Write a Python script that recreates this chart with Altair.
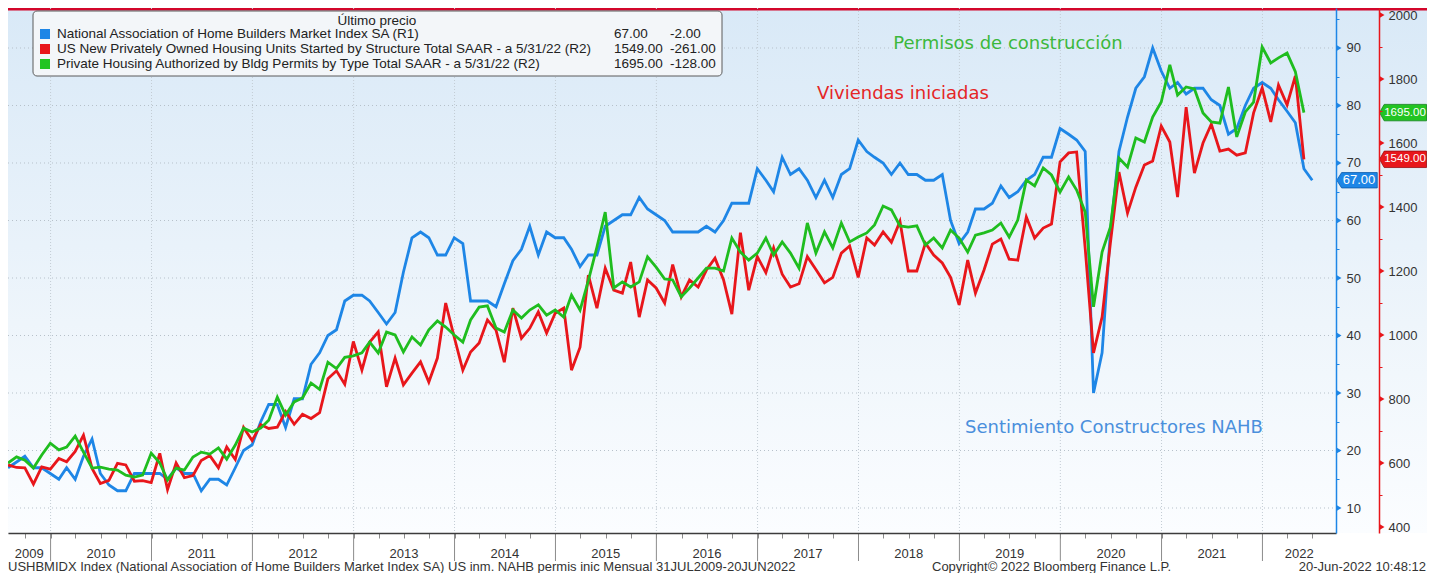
import calendar
import altair as alt
import pandas as pd

# ---------------- data ----------------
# NAHB Market Index (R1), monthly Jul-2009 .. Jun-2022
nahb = [
    17, 18, 19, 17, 17, 16,
    15, 17, 15, 19, 22, 16, 14, 13, 13, 16, 16, 16,
    16, 15, 17, 16, 16, 13, 15, 15, 14, 17, 20, 21,
    25, 28, 28, 24, 29, 29, 35, 37, 40, 41, 46, 47,
    47, 46, 44, 42, 44, 51, 57, 58, 57, 54, 54, 57,
    56, 46, 46, 46, 45, 49, 53, 55, 59, 54, 58, 57,
    57, 55, 52, 54, 54, 59, 60, 61, 61, 64, 62, 61,
    60, 58, 58, 58, 58, 59, 58, 60, 63, 63, 63, 69,
    67, 65, 71, 68, 69, 67, 64, 67, 64, 68, 69, 74,
    72, 71, 70, 68, 70, 68, 68, 67, 67, 68, 60, 56,
    58, 62, 62, 63, 66, 64, 65, 67, 68, 71, 71, 76,
    75, 74, 72, 30, 37, 58, 72, 78, 83, 85, 90, 86,
    83, 84, 82, 83, 83, 81, 80, 75, 76, 80, 83, 84,
    83, 81, 79, 77, 69, 67,
]
# Housing starts (R2), Jul-2009 .. May-2022
starts = [
    594, 586, 585, 534, 588, 581,
    614, 604, 636, 687, 583, 536, 546, 599, 594, 543, 545, 539,
    630, 517, 600, 554, 561, 608, 623, 585, 650, 611, 711, 670,
    720, 708, 712, 761, 721, 752, 739, 757, 863, 888, 846, 980,
    890, 978, 1010, 838, 928, 844, 881, 916, 853, 928, 1100, 993,
    890, 947, 975, 1047, 1015, 915, 1084, 990, 1021, 1072, 1006, 1068,
    1084, 890, 962, 1187, 1084, 1209, 1140, 1131, 1228, 1056, 1172, 1147,
    1100, 1220, 1119, 1172, 1150, 1203, 1240, 1172, 1065, 1320, 1140, 1245,
    1195, 1272, 1190, 1150, 1160, 1245, 1205, 1163, 1180, 1256, 1278, 1180,
    1303, 1281, 1322, 1290, 1355, 1200, 1200, 1287, 1250, 1225, 1180, 1094,
    1234, 1131, 1203, 1284, 1300, 1237, 1234, 1369, 1303, 1334, 1347, 1541,
    1569, 1572, 1270, 944, 1056, 1287, 1509, 1381, 1462, 1531, 1544, 1653,
    1603, 1431, 1712, 1506, 1600, 1659, 1575, 1581, 1562, 1569, 1694, 1772,
    1666, 1781, 1719, 1810, 1549,
]
# Building permits (R2), Jul-2009 .. May-2022
permits = [
    600, 619, 609, 584, 625, 662,
    641, 650, 684, 634, 584, 587, 581, 578, 562, 556, 562, 631,
    600, 547, 584, 578, 619, 634, 628, 647, 612, 656, 709, 697,
    709, 734, 806, 750, 791, 803, 850, 830, 915, 895, 930, 935,
    944, 978, 944, 1009, 1000, 947, 994, 969, 1016, 1044, 1025, 1000,
    978, 1047, 1087, 1091, 1022, 1009, 1078, 1053, 1078, 1094, 1062, 1078,
    1056, 1125, 1078, 1170, 1275, 1384, 1147, 1166, 1150, 1166, 1244, 1212,
    1175, 1172, 1119, 1147, 1178, 1209, 1209, 1200, 1303, 1259, 1234, 1256,
    1303, 1250, 1291, 1256, 1209, 1350, 1256, 1322, 1272, 1350, 1291, 1306,
    1319, 1344, 1403, 1391, 1341, 1337, 1341, 1281, 1303, 1272, 1328, 1303,
    1259, 1312, 1319, 1328, 1350, 1306, 1359, 1484, 1466, 1522, 1500, 1447,
    1494, 1453, 1384, 1088, 1259, 1337, 1553, 1525, 1616, 1603, 1681, 1728,
    1844, 1750, 1775, 1769, 1694, 1666, 1662, 1775, 1619, 1697, 1728, 1900,
    1850, 1866, 1881, 1823, 1695,
]

years = list(range(2009, 2023))
blue_ticks = [10, 20, 30, 40, 50, 60, 70, 80, 90]
blue_minor = list(range(5, 100, 5))
red_ticks = [400, 600, 800, 1000, 1200, 1400, 1600, 1800, 2000]
red_minor = list(range(400, 2001, 100))

legend_title = "Último precio"
legend_names = [
    "National Association of Home Builders Market Index SA  (R1)",
    "US New Privately Owned Housing Units Started by Structure Total SAAR -  a 5/31/22  (R2)",
    "Private Housing Authorized by Bldg Permits by Type Total SAAR -  a 5/31/22  (R2)",
]
ann_permits = "Permisos de construcción"
ann_starts = "Viviendas iniciadas"
ann_nahb = "Sentimiento Constructores NAHB"
footer_left = ("USHBMIDX Index (National Association of Home Builders Market Index SA) "
               "US inm. NAHB permis inic  Mensual 31JUL2009-20JUN2022")
footer_mid = "Copyright© 2022 Bloomberg Finance L.P."
footer_right = "20-Jun-2022 10:48:12"

# ---------------- styling / layout ----------------
BLUE, RED, GREEN = "#1e86e6", "#e8161b", "#1fbd1f"
FONT = "Liberation Sans"
ANN_FONT = "DejaVu Sans"
W, H = 1328, 525
PAD_R, PAD_B = 91, 40
TAG = "M -1 0 L -0.76 -0.38 L 1 -0.38 L 1 0.38 L -0.76 0.38 Z"
TAG2 = "M -1 0 L -0.8 -0.35 L 1 -0.35 L 1 0.35 L -0.8 0.35 Z"


def month_ends(n, y=2009, m=7):
    out = []
    for _ in range(n):
        out.append(f"{y:04d}-{m:02d}-{calendar.monthrange(y, m)[1]:02d}")
        m += 1
        if m > 12:
            m, y = 1, y + 1
    return out


df_b = pd.DataFrame({"date": month_ends(len(nahb)), "v": nahb})
df_r = pd.DataFrame({"date": month_ends(len(starts)), "v": starts})
df_g = pd.DataFrame({"date": month_ends(len(permits)), "v": permits})

dom0, dom1 = pd.Timestamp("2009-07-31"), pd.Timestamp("2022-09-24")
xscale = alt.Scale(domain=[alt.DateTime(year=2009, month=7, date=31, utc=True),
                           alt.DateTime(year=2022, month=9, date=24, utc=True)])
quarters = [alt.DateTime(year=y, month=m, date=1, utc=True)
            for y in years for m in (1, 4, 7, 10)
            if dom0 <= pd.Timestamp(y, m, 1) <= dom1]
xaxis = alt.Axis(values=quarters, labels=False, tickSize=5, tickColor="#8a8a8a",
                 tickWidth=1, domainColor="#3c3c3c", domainWidth=1.5, grid=False,
                 title=None, zindex=2)
X = alt.X("date:T", scale=xscale, axis=xaxis)

bscale = alt.Scale(domain=[5.6522, 96.9565], nice=False, zero=False)
baxis = alt.Axis(orient="right", values=blue_minor, format="d",
                 labelExpr="datum.value % 10 === 0 ? datum.label : ''",
                 tickSize=3, tickColor=BLUE, tickWidth=1, domainColor=BLUE,
                 domainWidth=1.5, labelPadding=7, labelColor="#333",
                 labelFontSize=13, labelFont=FONT, labelOverlap=False,
                 grid=False, title=None, zindex=2)
YB = alt.Y("v:Q", scale=bscale, axis=baxis)

rscale = alt.Scale(domain=[381.25, 2021.875], nice=False, zero=False)
raxis = alt.Axis(orient="right", offset=43, values=red_minor, format="d",
                 labelExpr="datum.value % 200 === 0 ? datum.label : ''",
                 tickSize=3, tickColor=RED, tickWidth=1, domainColor=RED,
                 domainWidth=1.5, labelPadding=6, labelColor="#333",
                 labelFontSize=13, labelFont=FONT, labelOverlap=False,
                 grid=False, title=None, zindex=2)
YR = alt.Y("v:Q", scale=rscale, axis=raxis)

one = pd.DataFrame({"k": [0]})


def text_at(txt, x, y, **kw):
    return alt.Chart(pd.DataFrame({"t": [txt]})).mark_text(**kw).encode(
        x=alt.value(x), y=alt.value(y), text="t:N")


# background gradient and top stripe
bg = alt.Chart(one).mark_rect(
    fill=alt.LinearGradient(gradient="linear", x1=0, x2=0, y1=0, y2=1,
                            stops=[alt.GradientStop(offset=0, color="#d9e9f7"),
                                   alt.GradientStop(offset=0.6, color="#eef5fb"),
                                   alt.GradientStop(offset=1, color="#fbfdff")])
).encode(x=alt.value(0), x2=alt.value(W + PAD_R), y=alt.value(0), y2=alt.value(H))
stripe = alt.Chart(one).mark_rect(color="#d3062b").encode(
    x=alt.value(0), x2=alt.value(W + PAD_R), y=alt.value(0), y2=alt.value(2.5))

year_starts = pd.DataFrame({"date": [f"{y}-01-01" for y in years[1:]]})
vgrid = alt.Chart(year_starts).mark_rule(color="#c3ccd4", strokeDash=[1, 2],
                                         strokeWidth=1).encode(
    x=X, y=alt.value(0), y2=alt.value(H))
xsep = alt.Chart(year_starts).mark_rule(color="#8c8c8c", strokeWidth=1).encode(
    x=X, y=alt.value(H), y2=alt.value(H + 28))

mids = []
for y in years:
    a = max(pd.Timestamp(y, 1, 1), dom0)
    b = min(pd.Timestamp(y + 1, 1, 1), dom1)
    mids.append((a + (b - a) / 2).strftime("%Y-%m-%d"))
year_lbl = alt.Chart(pd.DataFrame({"date": mids, "t": [str(y) for y in years]})).mark_text(
    font=FONT, fontSize=13, color="#333", baseline="middle").encode(
    x=X, y=alt.value(H + 21), text="t:N")

# ----- blue (R1) group -----
hgrid = alt.Chart(pd.DataFrame({"v": blue_ticks})).mark_rule(
    color="#b7c1ca", strokeDash=[1, 3], strokeWidth=1).encode(
    y=YB, x=alt.value(0), x2=alt.value(W))
blue_line = alt.Chart(df_b).mark_line(color=BLUE, strokeWidth=2.8).encode(x=X, y=YB)
blue_tri = alt.Chart(pd.DataFrame({"v": blue_ticks})).mark_point(
    shape="triangle-right", filled=True, size=34, color=BLUE, opacity=1).encode(
    y=YB, x=alt.value(W + 3))
blue_last = pd.DataFrame({"v": [nahb[-1]], "t": [f"{nahb[-1]:.2f}"]})
blue_tag = alt.Chart(blue_last).mark_point(
    shape=TAG, filled=True, size=1640, color=BLUE, stroke="#0c5aa8",
    strokeWidth=0.8, opacity=1).encode(y=YB, x=alt.value(W + 21))
blue_tag_t = alt.Chart(blue_last).mark_text(
    font=FONT, fontSize=13, color="white", baseline="middle", dx=2).encode(
    y=YB, x=alt.value(W + 21), text="t:N")
blue_group = alt.layer(hgrid, blue_line, blue_tri, blue_tag, blue_tag_t)

# ----- red (R2) group -----
red_line = alt.Chart(df_r).mark_line(color=RED, strokeWidth=2.8).encode(x=X, y=YR)
green_line = alt.Chart(df_g).mark_line(color=GREEN, strokeWidth=2.8).encode(x=X, y=YR)
red_tri = alt.Chart(pd.DataFrame({"v": red_ticks})).mark_point(
    shape="triangle-right", filled=True, size=34, color=RED, opacity=1).encode(
    y=YR, x=alt.value(W + 46))
r_last = pd.DataFrame({"v": [starts[-1]], "t": [f"{starts[-1]:.2f}"]})
g_last = pd.DataFrame({"v": [permits[-1]], "t": [f"{permits[-1]:.2f}"]})
TX = W + 67
red_tag = alt.Chart(r_last).mark_point(
    shape=TAG2, filled=True, size=2209, color=RED, stroke="#9c0d10",
    strokeWidth=0.8, opacity=1).encode(y=YR, x=alt.value(TX))
red_tag_t = alt.Chart(r_last).mark_text(
    font=FONT, fontSize=11.5, color="white", baseline="middle", dx=2).encode(
    y=YR, x=alt.value(TX), text="t:N")
green_tag = alt.Chart(g_last).mark_point(
    shape=TAG2, filled=True, size=2209, color="#22c422", stroke="#12801a",
    strokeWidth=0.8, opacity=1).encode(y=YR, x=alt.value(TX))
green_tag_t = alt.Chart(g_last).mark_text(
    font=FONT, fontSize=11.5, color="white", baseline="middle", dx=2).encode(
    y=YR, x=alt.value(TX), text="t:N")
red_group = alt.layer(red_line, green_line, red_tri, red_tag, red_tag_t,
                      green_tag, green_tag_t)

# ----- legend box -----
LX0, LX1, LY0, LY1 = 25, 714, 3, 68
rows_y = [26, 41, 56]
leg_box = alt.Chart(one).mark_rect(fill="#f3f6f9", stroke="#5a5a5a", strokeWidth=1,
                                   cornerRadius=4).encode(
    x=alt.value(LX0), x2=alt.value(LX1), y=alt.value(LY0), y2=alt.value(LY1))
leg_layers = [leg_box,
              text_at(legend_title, 369, 13, font=FONT, fontSize=13.5, color="#222",
                      baseline="middle", align="center")]
series_last = [(nahb[-1], nahb[-1] - nahb[-2]),
               (starts[-1], starts[-1] - starts[-2]),
               (permits[-1], permits[-1] - permits[-2])]
for name, col, yy, (last, chg) in zip(legend_names, [BLUE, RED, "#22c422"], rows_y, series_last):
    leg_layers.append(alt.Chart(one).mark_square(size=100, color=col, opacity=1).encode(
        x=alt.value(37), y=alt.value(yy)))
    leg_layers.append(text_at(name, 49, yy, font=FONT, fontSize=13.5, color="#222",
                              baseline="middle", align="left"))
    leg_layers.append(text_at(f"{last:.2f}", 606, yy, font=FONT, fontSize=13.5,
                              color="#222", baseline="middle", align="left"))
    leg_layers.append(text_at(f"{chg:.2f}", 662, yy, font=FONT, fontSize=13.5,
                              color="#222", baseline="middle", align="left"))

# ----- annotations & footer -----
anns = [
    text_at(ann_permits, 1000, 36, font=ANN_FONT, fontSize=18, color="#3cb83c",
            align="center", baseline="middle"),
    text_at(ann_starts, 895, 86, font=ANN_FONT, fontSize=18, color="#e52626",
            align="center", baseline="middle"),
    text_at(ann_nahb, 1106, 420, font=ANN_FONT, fontSize=18, color="#4a8fdc",
            align="center", baseline="middle"),
    text_at(footer_left, 0, H + 34, font=FONT, fontSize=13, color="#333",
            align="left", baseline="middle"),
    text_at(footer_mid, 924, H + 34, font=FONT, fontSize=13, color="#333",
            align="left", baseline="middle"),
    text_at(footer_right, W + PAD_R - 1, H + 34, font=FONT, fontSize=13, color="#333",
            align="right", baseline="middle"),
]

chart = alt.layer(
    bg, stripe, vgrid, xsep, year_lbl, blue_group, red_group, *leg_layers, *anns
).resolve_scale(y="independent").properties(
    width=W, height=H,
    padding={"left": 0, "top": 0, "right": PAD_R, "bottom": PAD_B},
    autosize=alt.AutoSizeParams(type="none"),
).configure_view(stroke=None).configure(font=FONT, background="white")

chart.save("out.html", embed_options={"renderer": "svg", "actions": False})
